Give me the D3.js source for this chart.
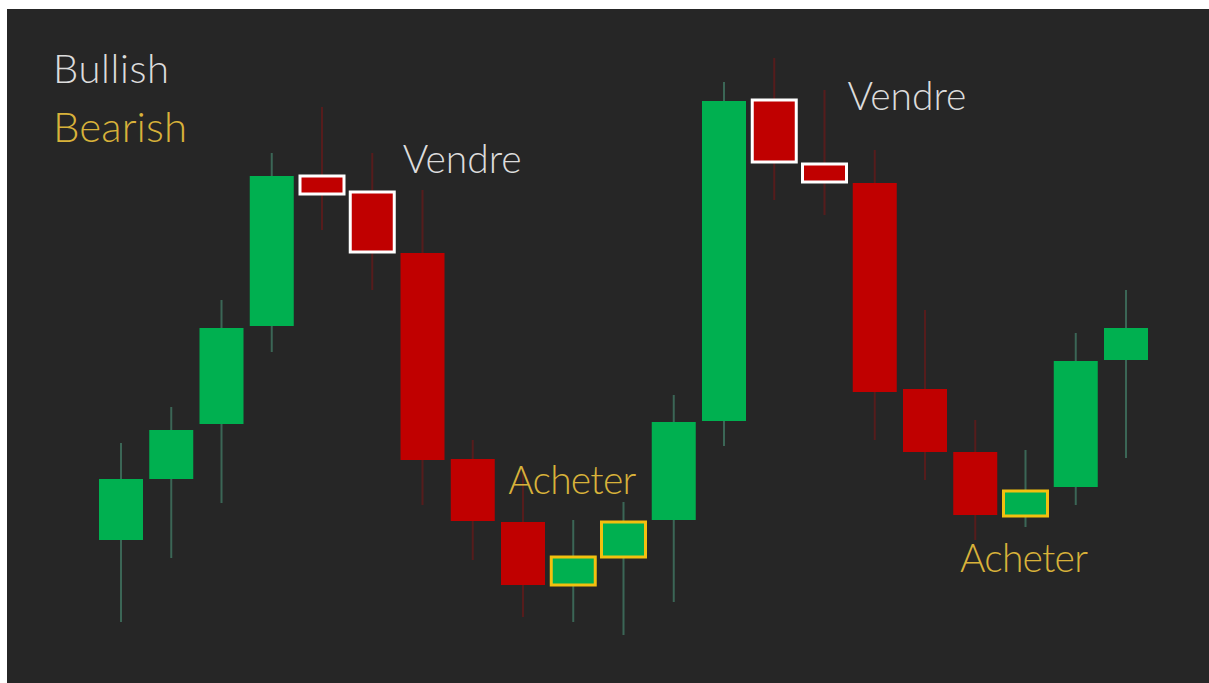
<!DOCTYPE html>
<html>
<head>
<meta charset="utf-8">
<script src="https://cdn.jsdelivr.net/npm/d3@7"></script>
<style>
  html, body { margin: 0; padding: 0; background: #ffffff; }
  svg { display: block; }
</style>
</head>
<body>
<svg id="chart" width="1209" height="683"></svg>
<script>
// Price series, one entry per candle
const opens  = [30, 45.25, 59, 83.5, 121, 117, 101.75, 50.25, 34.5, 18.75, 25.75, 35, 59.75, 140, 124, 119.25, 67.75, 52, 36, 43.25, 75];
const highs  = [54.25, 63.25, 90, 126.75, 138.25, 126.75, 117.5, 55, 47.5, 35, 39.5, 66.25, 144.5, 150.5, 142.5, 127.5, 87.5, 60, 52.5, 81.75, 92.5];
const lows   = [9.5, 25.5, 39.25, 77, 107.5, 92.5, 38.75, 25, 10.75, 9.5, 6.25, 14.5, 53.5, 115, 111.25, 55, 45, 30, 33.25, 38.75, 50.5];
const closes = [45.25, 57.5, 83, 121, 116.5, 102, 50, 34.75, 18.75, 25.75, 34.5, 59.5, 139.75, 124.5, 119.5, 67, 52, 36.25, 42.25, 74.75, 83];

// Candles flagged as signals
const sellSignals = [4, 5, 13, 14];
const buySignals  = [9, 10, 18];

// Annotation labels: text, slot on the time axis, price of the baseline
const noteTexts  = ["Vendre", "Vendre", "Acheter", "Acheter"];
const noteSlots  = [6.79, 15.64, 8.98, 17.97];
const notePrices = [121.75, 137.5, 41.5, 22];
const noteKinds  = ["sell", "sell", "buy", "buy"];

// Legend entries
const legendTexts = ["Bullish", "Bearish"];

const candles = opens.map((o, i) => ({
  i, open: o, high: highs[i], low: lows[i], close: closes[i],
  up: closes[i] >= o,
  signal: sellSignals.includes(i) ? "sell" : buySignals.includes(i) ? "buy" : null
}));

const svg = d3.select("#chart");
const W = 1209, H = 683;

const colors = {
  bg: "#262626",
  up: "#00b050",
  down: "#c00000",
  upWick: "#3b6656",
  downWick: "#561c1c",
  sell: "#ffffff",
  buy: "#f2c00f",
  light: "#dcdcdc",
  gold: "#d8b23a"
};

// Panel
svg.append("rect")
  .attr("x", 7).attr("y", 9)
  .attr("width", W - 7).attr("height", H - 9)
  .attr("fill", colors.bg);

const x = d3.scaleLinear().domain([0, candles.length - 1]).range([121, 1126]);
const y = d3.scaleLinear().domain([0, 150]).range([660, 60]);
const bodyW = 44;

const g = svg.append("g");

// Wicks
g.selectAll("line.wick")
  .data(candles)
  .join("line")
  .attr("class", "wick")
  .attr("x1", d => x(d.i)).attr("x2", d => x(d.i))
  .attr("y1", d => y(d.high)).attr("y2", d => y(d.low))
  .attr("stroke", d => d.up ? colors.upWick : colors.downWick)
  .attr("stroke-width", 2);

// Bodies
g.selectAll("rect.body")
  .data(candles)
  .join("rect")
  .attr("class", "body")
  .attr("x", d => x(d.i) - bodyW / 2)
  .attr("width", bodyW)
  .attr("y", d => y(Math.max(d.open, d.close)))
  .attr("height", d => Math.abs(y(d.open) - y(d.close)))
  .attr("fill", d => d.up ? colors.up : colors.down)
  .attr("stroke", d => d.signal === "sell" ? colors.sell : d.signal === "buy" ? colors.buy : "none")
  .attr("stroke-width", d => d.signal ? 3 : 0);

// Legend
const legendFont = "Lato, 'Open Sans', sans-serif";
svg.selectAll("text.legend")
  .data(legendTexts)
  .join("text")
  .attr("class", "legend")
  .attr("x", 53)
  .attr("y", (d, i) => 83 + i * 59)
  .attr("font-family", legendFont)
  .attr("font-weight", 300)
  .attr("font-size", (d, i) => i === 0 ? 40 : 42)
  .attr("textLength", (d, i) => i === 0 ? 116 : 134)
  .attr("lengthAdjust", "spacing")
  .attr("fill", (d, i) => i === 0 ? colors.light : colors.gold)
  .text(d => d);

// Signal annotations
svg.selectAll("text.note")
  .data(noteTexts)
  .join("text")
  .attr("class", "note")
  .attr("x", (d, i) => x(noteSlots[i]))
  .attr("y", (d, i) => y(notePrices[i]))
  .attr("text-anchor", "middle")
  .attr("font-family", legendFont)
  .attr("font-weight", 300)
  .attr("font-size", 39)
  .attr("textLength", (d, i) => noteKinds[i] === "sell" ? 119 : 128)
  .attr("lengthAdjust", "spacing")
  .attr("fill", (d, i) => noteKinds[i] === "sell" ? colors.light : colors.gold)
  .text(d => d);
</script>
</body>
</html>
